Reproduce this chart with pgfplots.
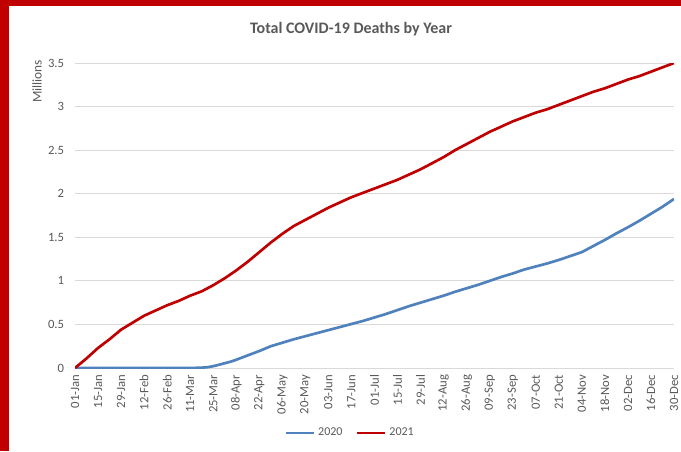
\documentclass[border=0pt]{standalone}
\usepackage{fontspec}
\setmainfont{Carlito}
\usepackage{pgfplots}
\pgfplotsset{compat=1.18}

\definecolor{blue20}{RGB}{79,129,189}
\definecolor{red21}{RGB}{192,0,0}
\definecolor{txtgray}{RGB}{89,89,89}
\definecolor{gridgray}{RGB}{217,217,217}

\begin{document}
\begin{tikzpicture}[x=0.75pt,y=0.75pt]
% frame: 681 x 451 px, 1px = 0.75pt
\path[use as bounding box] (0,0) rectangle (681,451);
\fill[white] (0,0) rectangle (681,451);
\fill[red21] (0,0) rectangle (9,451);
\fill[red21] (0,445) rectangle (681,451);

\node[font=\bfseries\fontsize{12}{14}\selectfont, text=txtgray] at (351,422) {Total COVID-19 Deaths by Year};
\node[rotate=90, font=\fontsize{10}{12}\selectfont, text=txtgray] at (37,369.5) {Millions};

\begin{axis}[
    scale only axis,
    width=449.25pt, height=228.75pt,
    at={(56.25pt,62.25pt)}, anchor=south west,
    xmin=0, xmax=364,
    ymin=0, ymax=3.5,
    axis lines=left,
    axis line style={-},
    y axis line style={draw=none},
    x axis line style={draw=gridgray, line width=0.75pt},
    major tick length=0pt,
    ymajorgrids,
    grid style={draw=gridgray, line width=0.75pt},
    ytick={0,0.5,1,1.5,2,2.5,3,3.5},
    yticklabels={0,0.5,1,1.5,2,2.5,3,3.5},
    yticklabel style={font=\fontsize{9.5}{11}\selectfont, text=txtgray, inner xsep=8pt},
    xtick={0,14,...,364},
    xticklabels={01-Jan,15-Jan,29-Jan,12-Feb,26-Feb,11-Mar,25-Mar,08-Apr,22-Apr,06-May,20-May,03-Jun,17-Jun,01-Jul,15-Jul,29-Jul,12-Aug,26-Aug,09-Sep,23-Sep,07-Oct,21-Oct,04-Nov,18-Nov,02-Dec,16-Dec,30-Dec},
    xticklabel style={rotate=90, anchor=east, font=\fontsize{9.5}{11}\selectfont, text=txtgray, inner xsep=5pt, inner ysep=1pt},
    legend columns=2,
    legend style={at={(0.46,-0.213)}, anchor=center, draw=none, fill=none,
        font=\fontsize{9}{11}\selectfont, text=txtgray,
        /tikz/every even column/.append style={column sep=8pt}},
    legend image code/.code={\draw[#1, line width=2.2pt] (0pt,0pt) -- (21pt,0pt);},
]
\addplot[blue20, line width=2pt, line join=round] coordinates {
(0,0) (70,0) (77,0.004) (81,0.01) (85,0.025) (88,0.04) (91,0.055) (95,0.075)
(98,0.095) (105,0.145) (112,0.195) (119,0.25) (126,0.29) (133,0.33) (140,0.365)
(147,0.40) (154,0.435) (161,0.47) (168,0.505) (175,0.54) (182,0.58) (189,0.62)
(196,0.665) (203,0.71) (210,0.75) (217,0.79) (224,0.83) (231,0.875) (238,0.915)
(245,0.955) (252,1.00) (259,1.045) (266,1.085) (273,1.13) (280,1.165) (287,1.20)
(294,1.24) (301,1.285) (308,1.33) (315,1.40) (322,1.47) (329,1.545) (336,1.615)
(343,1.69) (350,1.77) (357,1.85) (364,1.94)
};
\addlegendentry{2020}
\addplot[red21, line width=2pt, line join=round] coordinates {
(0,0) (7,0.11) (14,0.23) (21,0.33) (28,0.44) (35,0.52) (42,0.60) (49,0.66)
(56,0.72) (63,0.77) (70,0.83) (77,0.88) (84,0.95) (91,1.03) (98,1.12) (105,1.22)
(112,1.33) (119,1.44) (126,1.54) (133,1.63) (140,1.70) (147,1.77) (154,1.84)
(161,1.90) (168,1.96) (175,2.01) (182,2.06) (189,2.11) (196,2.16) (203,2.22)
(210,2.28) (217,2.35) (224,2.42) (231,2.50) (238,2.57) (245,2.64) (252,2.71)
(259,2.77) (266,2.83) (273,2.88) (280,2.93) (287,2.97) (294,3.02) (301,3.07)
(308,3.12) (315,3.17) (322,3.21) (329,3.26) (336,3.31) (343,3.35) (350,3.40)
(357,3.45) (364,3.50)
};
\addlegendentry{2021}
\end{axis}
\end{tikzpicture}
\end{document}
